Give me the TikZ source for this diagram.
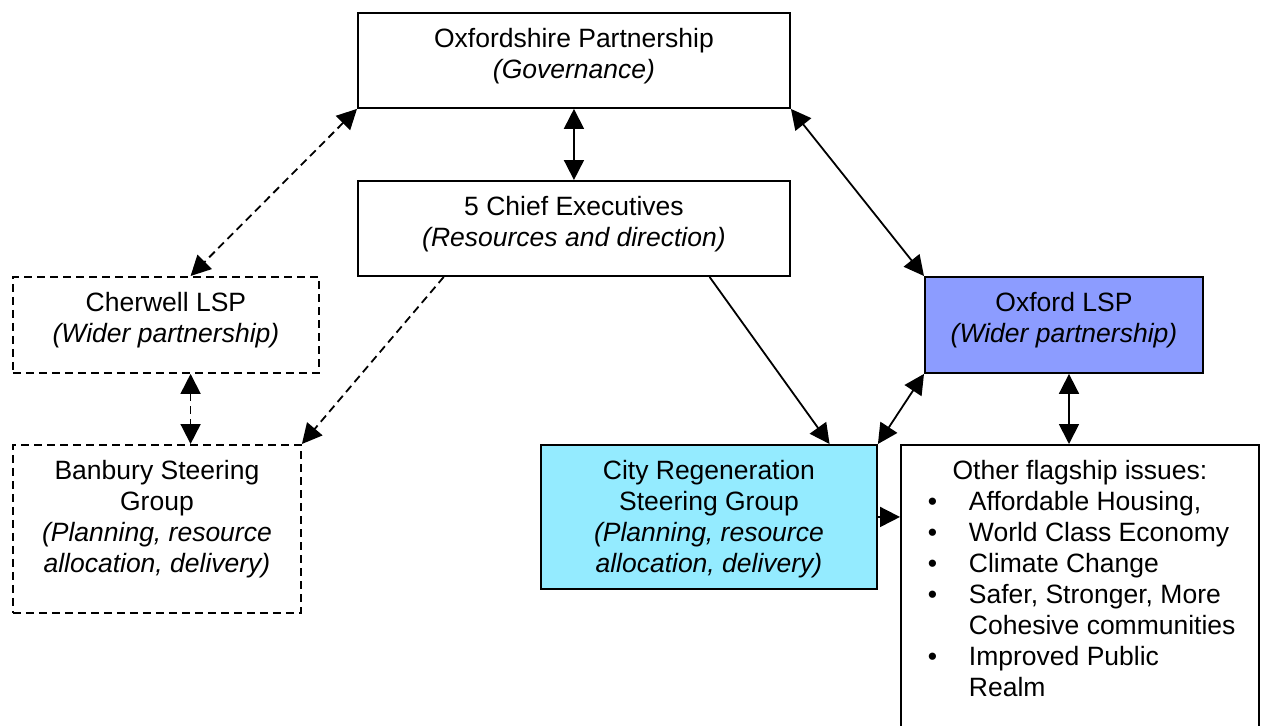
\documentclass[tikz,border=0pt]{standalone}
\usepackage{fontspec}
\setmainfont{Liberation Sans}
\usetikzlibrary{arrows.meta,calc}
\definecolor{lspblue}{HTML}{8C9CFF}
\definecolor{regcyan}{HTML}{94EBFF}
\newcommand\boxtext[3]{\begin{minipage}[c][#2][t]{#1}\centering\rule{0pt}{35pt}#3\end{minipage}}
\newcommand\itemline[1]{\hspace*{27pt}\makebox[41pt][l]{\textbullet}#1}
\newcommand\contline[1]{\hspace*{68pt}#1}
\begin{document}
\begin{tikzpicture}[x=1pt,y=-1pt,
  box/.style={draw, line width=1.9pt, inner sep=0pt, anchor=north west,
    font=\fontsize{26.5pt}{31pt}\selectfont},
  dbox/.style={box, dash pattern=on 8pt off 5pt},
  tipA/.tip={Triangle[length=20pt,width=20pt]},
  link/.style={line width=1.8pt, tipA-tipA},
  onelink/.style={line width=1.8pt, -tipA},
  dlink/.style={link, dash pattern=on 8pt off 5pt},
  donelink/.style={onelink, dash pattern=on 8pt off 5pt}]
\useasboundingbox (0,0) rectangle (1265,725);
\clip (0,0) rectangle (1265,725);
\node[box] (oxf) at (357,12) {\boxtext{432pt}{95pt}{Oxfordshire Partnership\\\textit{(Governance)}}};
\node[box] (chief) at (357,180) {\boxtext{432pt}{95pt}{5 Chief Executives\\\textit{(Resources and direction)}}};
\node[dbox] (cher) at (12,276) {\boxtext{306pt}{96pt}{Cherwell LSP\\\textit{(Wider partnership)}}};
\node[dbox] (ban) at (12,444) {\boxtext{288pt}{168pt}{Banbury Steering\\Group\\{\itshape (Planning, resource\\allocation, delivery)}}};
\node[box, fill=lspblue] (olsp) at (924,276) {\boxtext{278pt}{96pt}{Oxford LSP\\\textit{(Wider partnership)}}};
\node[box, fill=regcyan] (city) at (540,444) {\boxtext{336pt}{144pt}{City Regeneration\\Steering Group\\{\itshape (Planning, resource\\allocation, delivery)}}};
\node[box] (other) at (900,444) {\begin{minipage}[c][300pt][t]{358pt}\centering\rule{0pt}{35pt}Other flagship issues:\par\raggedright
\itemline{Affordable Housing,}\\
\itemline{World Class Economy}\\
\itemline{Climate Change}\\
\itemline{Safer, Stronger, More}\\
\contline{Cohesive communities}\\
\itemline{Improved Public}\\
\contline{Realm}\end{minipage}};
% connectors
\draw[dlink] (oxf.south west) -- ($(cher.north west)!0.58!(cher.north east)$);
\draw[link] (oxf.south) -- (chief.north);
\draw[link] (oxf.south east) -- (olsp.north west);
\draw[donelink] ($(chief.south west)!0.2!(chief.south east)$) -- (ban.north east);
\draw[onelink] ($(chief.south west)!0.8125!(chief.south east)$) -- ($(city.north west)!0.857!(city.north east)$);
\draw[dlink] ($(cher.south west)!0.58!(cher.south east)$) coordinate (cs) -- (cs |- ban.north);
\draw[link] (olsp.south west) -- (city.north east);
\draw[link] ($(olsp.south west)!0.518!(olsp.south east)$) coordinate (os) -- (os |- other.north);
\draw[onelink] (city.east) -- (city.east -| other.west);
\end{tikzpicture}
\end{document}
